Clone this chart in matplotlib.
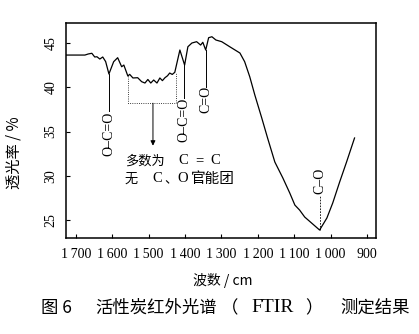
import numpy as np
import matplotlib
matplotlib.use("Agg")
import matplotlib.pyplot as plt

# FTIR spectrum
wavenumber = [1726, 1675, 1666, 1656, 1648, 1642, 1634, 1626, 1618, 1609,
              1596, 1585, 1574, 1568, 1557, 1552, 1543, 1530, 1519, 1510,
              1502, 1494, 1486, 1477, 1469, 1462, 1455, 1448, 1442, 1435,
              1428, 1414, 1401, 1392, 1381, 1368, 1357, 1351, 1343, 1335,
              1326, 1315, 1299, 1277, 1249, 1236, 1222, 1208, 1189, 1173,
              1153, 1131, 1112, 1098, 1085, 1071, 1052, 1030, 1010, 994,
              975, 956, 934]
transmit = [43.64, 43.64, 43.76, 43.84, 43.42, 43.45, 43.19, 43.42, 42.9, 41.50,
            42.89, 43.34, 42.32, 42.51, 41.27, 41.46, 41.05, 41.08, 40.63, 40.48,
            40.88, 40.48, 40.82, 40.48, 41.05, 40.75, 41.08, 41.3, 41.61, 41.45,
            41.69, 44.21, 42.51, 44.58, 45.0, 45.15, 44.77, 45.08, 44.21, 45.60,
            45.71, 45.34, 45.15, 44.58, 43.87, 42.89, 41.19, 39.12, 36.53, 34.27,
            31.55, 29.75, 28.05, 26.69, 26.13, 25.34, 24.66, 23.87, 25.23, 26.92,
            29.29, 31.55, 34.27]

xticks = [1700, 1600, 1500, 1400, 1300, 1200, 1100, 1000, 900]
xticklabels = ["1\u2009700", "1\u2009600", "1\u2009500", "1\u2009400", "1\u2009300",
               "1\u2009200", "1\u2009100", "1\u2009000", "900"]
yticks = [25, 30, 35, 40, 45]

# peak labels: (wavenumber, curve value, line end, label centre, text)
peaks = [(1609, 41.50, 37.3, 34.7, "O\u2013C=O"),
         (1403, 42.50, 38.8, 36.3, "O\u2013C=O"),
         (1343, 44.21, 40.0, 38.6, "C=O")]
co_peak = (1030, 23.87, 27.8, 29.4, "C\u2013O")

serif = ["Liberation Serif", "Noto Sans CJK SC"]
cjk = ["Noto Sans CJK SC", "Liberation Serif"]

fig = plt.figure(figsize=(4.19, 3.34), dpi=100)
ax = fig.add_axes([0.1575, 0.2874, 0.7399, 0.6437])

ax.plot(wavenumber, transmit, color="black", lw=0.9)

ax.set_xlim(1727, 875)
ax.set_ylim(22.97, 47.26)
ax.set_xticks(xticks)
ax.set_xticklabels(xticklabels, family=serif, fontsize=10)
ax.set_yticks(yticks)
ax.set_yticklabels([str(v) for v in yticks], family=serif, fontsize=10,
                   rotation=90, va="center")
ax.tick_params(direction="in", length=3, width=0.8, top=False, right=False)
ax.tick_params(axis="x", pad=7)
ax.tick_params(axis="y", pad=6)
for s in ax.spines.values():
    s.set_linewidth(1.1)

# vertical peak markers
for x, y0, y1, yc, txt in peaks:
    ax.plot([x, x], [y0, y1], color="black", lw=0.7)
    ax.text(x, yc, txt, rotation=90, ha="center", va="center",
            family=serif, fontsize=10)
x, y0, y1, yc, txt = co_peak
ax.plot([x, x], [y0, y1], color="black", lw=0.6, ls=(0, (2, 1.5)))
ax.text(x, yc, txt, rotation=90, ha="center", va="center", family=serif, fontsize=10)

# dotted box over the C=C region and arrow
ax.plot([1557, 1557, 1425, 1425], [41.27, 38.2, 38.2, 41.69],
        color="black", lw=0.6, ls=":")
ax.annotate("", xy=(1488, 33.4), xytext=(1488, 38.2),
            arrowprops=dict(arrowstyle="-|>", color="black", lw=0.7,
                            mutation_scale=7, shrinkA=0, shrinkB=0))

# note text, placed piece by piece in pixels to keep the wide spacing
def note(px, py, s, fam, size, ha="left"):
    fig.text(px / 419, 1 - py / 334, s, family=fam, fontsize=size,
             ha=ha, va="center")

note(125, 161, "多数为", cjk, 9.5)
note(178, 161, "C", serif, 10.5)
note(195, 161, "=", serif, 10.5)
note(210, 161, "C", serif, 10.5)
note(125, 179, "无", cjk, 9.5)
note(152, 179, "C", serif, 10.5)
note(164, 180, "、", cjk, 9.5)
note(177, 179, "O", serif, 10.5)
note(191, 179, "官能团", cjk, 10.5)

fig.text(223 / 419, 1 - 280 / 334, "波数 / cm", family=cjk, fontsize=10,
         ha="center", va="center")
fig.text(14 / 419, 1 - 153 / 334, "透光率 / %", family=cjk, fontsize=11,
         ha="center", va="center", rotation=90)

# caption
note(41, 308, "图 6", cjk, 12.5)
note(95, 308, "活性炭红外光谱", cjk, 12.5)
note(221, 308, "（", cjk, 12.5)
note(273, 308, "FTIR", serif, 14, ha="center")
note(305, 308, "）", cjk, 12.5)
note(340, 308, "测定结果", cjk, 12.5)

fig.savefig("out.png", dpi=100)
